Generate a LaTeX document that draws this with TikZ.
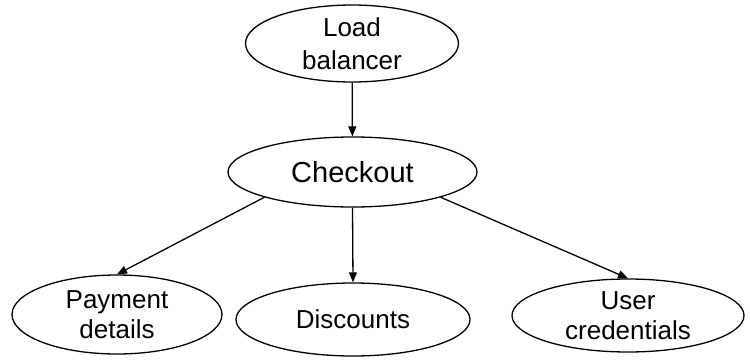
\documentclass[tikz,border=0pt]{standalone}
\usepackage{fontspec}
\setmainfont{Liberation Sans}
\usetikzlibrary{shapes.geometric,arrows.meta}
\begin{document}
\begin{tikzpicture}[x=1pt,y=-1pt,
  svc/.style={ellipse,draw,line width=1.3pt,inner sep=0pt,align=center,
    font=\fontsize{26}{30}\selectfont},
  link/.style={line width=1.3pt,-{Triangle[length=10pt,width=8pt]}}]
\useasboundingbox (0,0) rectangle (750,359);
% services
\node[svc,minimum width=213pt,minimum height=77pt,font=\fontsize{26}{33}\selectfont] (lb) at (352,43.5) {Load\\balancer};
\node[svc,minimum width=249pt,minimum height=70pt,font=\fontsize{29}{33}\selectfont] (co) at (352.5,172) {Checkout};
\node[svc,minimum width=210pt,minimum height=79pt] (pay) at (117,314.5) {Payment\\details};
\node[svc,minimum width=234pt,minimum height=73pt] (disc) at (353,319.5) {Discounts};
\node[svc,minimum width=232pt,minimum height=73pt] (user) at (628,315.5) {User\\credentials};
% calls
\draw[link] (lb) -- (co);
\draw[link] (co.196) -- (pay.north);
\draw[link] (co.south) -- (disc.north);
\draw[link] (co.344) -- (user.north);
\end{tikzpicture}
\end{document}
